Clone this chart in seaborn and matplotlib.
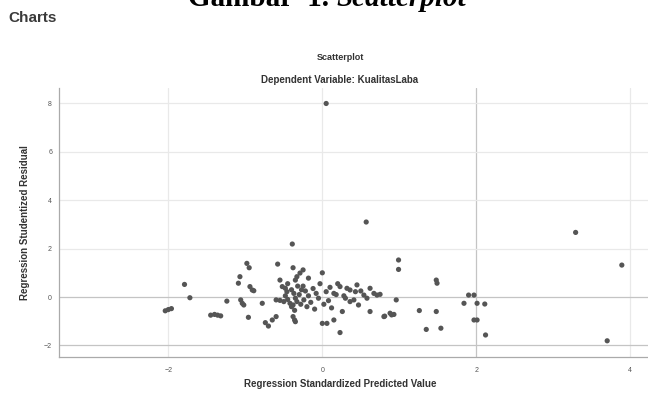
import matplotlib
matplotlib.use("Agg")
import matplotlib.pyplot as plt
import seaborn as sns
import pandas as pd

# Regression standardized predicted value (x) and studentized residual (y)
pred_value = [
    -2.04, -2.00, -1.96, -1.79, -1.72, -1.45, -1.40, -1.36, -1.32, -1.24,
    -1.07, -1.09, -1.06, -1.04, -1.02, -0.98, -0.95, -0.94, -0.91, -0.89,
    -0.96, -0.78, -0.74, -0.70, -0.65, -0.60, -0.58, -0.55, -0.52, -0.48,
    -0.46, -0.39, -0.38, -0.25, -0.29, -0.33, -0.35, -0.18, 0.00,
    -0.60, -0.55, -0.50, -0.45, -0.42, -0.40, -0.38, -0.36, -0.35, -0.33,
    -0.30, -0.28, -0.25, -0.24, -0.22, -0.20, -0.18, -0.15, -0.12, -0.10,
    -0.08, -0.05, -0.03, 0.02, 0.05, 0.08, 0.10, 0.12, -0.45, -0.40,
    -0.32, -0.27, -0.37, -0.48,
    -0.38, -0.36, -0.35, 0.00, 0.06, 0.15, 0.23, 0.26,
    0.05, 0.57,
    0.20, 0.18, 0.23, 0.32, 0.36, 0.45, 0.43, 0.41, 0.36, 0.47,
    0.54, 0.58, 0.62, 0.67, 0.71, 0.62, 0.80, 0.90, 0.96, 0.99,
    0.99, 0.75, 0.30, 0.15, 0.28, 0.50,
    0.81, 0.88, 0.93, 1.26, 1.48, 1.49, 1.48, 1.35, 1.54, 1.84,
    1.90, 1.97, 2.01, 2.11, 1.97, 2.01, 2.12, 3.29, 3.89, 3.70,
]
stud_resid = [
    -0.57, -0.52, -0.48, 0.52, -0.03, -0.75, -0.72, -0.75, -0.78, -0.17,
    0.84, 0.57, -0.12, -0.26, -0.33, 1.39, 1.21, 0.43, 0.29, 0.26,
    -0.84, -0.26, -1.06, -1.20, -0.95, -0.81, 1.36, 0.70, 0.43, 0.36,
    0.22, 2.19, 1.21, 1.12, 0.99, 0.84, 0.70, 0.78, 1.00,
    -0.12, -0.14, -0.19, -0.10, -0.26, -0.40, -0.33, -0.55, -0.05, -0.19,
    0.10, -0.30, 0.45, -0.12, 0.25, -0.40, 0.05, -0.22, 0.35, -0.50,
    0.15, -0.05, 0.55, -0.30, 0.22, -0.15, 0.40, -0.45, 0.55, 0.30,
    0.45, 0.30, 0.15, 0.05,
    -0.81, -0.95, -1.02, -1.09, -1.09, -0.95, -1.47, -0.60,
    8.00, 3.10,
    0.55, 0.10, 0.43, 0.36, 0.29, 0.50, 0.22, -0.12, -0.19, -0.33,
    0.08, -0.05, 0.36, 0.15, 0.08, -0.60, -0.81, -0.74, -0.12, 1.53,
    1.14, 0.11, -0.05, 0.15, 0.05, 0.25,
    -0.79, -0.67, -0.72, -0.56, 0.70, 0.57, -0.60, -1.34, -1.29, -0.26,
    0.08, 0.08, -0.26, -0.29, -0.95, -0.95, -1.57, 2.67, 1.32, -1.81,
]
x_ticks = [-2, 0, 2, 4]
y_ticks = [-2, 0, 2, 4, 6, 8]

df = pd.DataFrame({"pred": pred_value, "resid": stud_resid})

sns.set_style("white")
plt.rcParams["font.family"] = ["Liberation Sans", "DejaVu Sans"]

fig = plt.figure(figsize=(6.48, 3.94), dpi=100)
W, H = 648, 394
# axes box in pixels: left 59, right 648, top 88, bottom 357
ax = fig.add_axes([59 / W, (H - 357) / H, (648 - 59) / W, (357 - 88) / H])

# grid lines, a few of them a bit darker like the reference lines in the original
for v in x_ticks:
    ax.axvline(v, color="#c4c4c4" if v == 2 else "#e9e9e9", lw=0.9, zorder=0)
for v in y_ticks:
    ax.axhline(v, color="#c4c4c4" if v in (0, -2) else "#e9e9e9", lw=0.9, zorder=0)

sns.scatterplot(data=df, x="pred", y="resid", ax=ax, color="#555555",
                s=14, edgecolor="none", zorder=3, legend=False)

ax.set_xlim(-3.42, 4.23)
ax.set_ylim(-2.48, 8.64)
ax.set_xticks(x_ticks)
ax.set_yticks(y_ticks)
ax.tick_params(axis="both", length=0, labelsize=5, colors="#555555")
ax.tick_params(axis="x", pad=7)
ax.tick_params(axis="y", pad=5)
ax.set_xlabel("")
ax.set_ylabel("Regression Studentized Residual", fontsize=7, fontweight="bold",
              color="#333333", labelpad=10)
for side in ["top", "right"]:
    ax.spines[side].set_visible(False)
for side in ["left", "bottom"]:
    ax.spines[side].set_color("#aaaaaa")
    ax.spines[side].set_linewidth(0.9)

# texts around the chart
fig.text(340 / W, 1 - 384 / H, "Regression Standardized Predicted Value", ha="center", va="center",
         fontsize=7, fontweight="bold", color="#333333")
fig.text(340 / W, 1 - 58 / H, "Scatterplot", ha="center", va="center",
         fontsize=6.5, fontweight="bold", color="#333333")
fig.text(340 / W, 1 - 80 / H, "Dependent Variable: KualitasLaba", ha="center", va="center",
         fontsize=7, fontweight="bold", color="#333333")
fig.text(8 / W, 1 - 18 / H, "Charts", ha="left", va="center",
         fontsize=11, fontweight="bold", color="#3a3a3a")

# document caption, cut off at the top edge
fig.text(329 / W, 1 - 6 / H, "Gambar  1.", ha="right", va="baseline",
         fontsize=21, fontweight="bold", family="Liberation Serif", color="black")
fig.text(336 / W, 1 - 6 / H, "Scatterplot", ha="left", va="baseline",
         fontsize=21, fontweight="bold", fontstyle="italic", family="Liberation Serif", color="black")

fig.savefig("out.png", dpi=100)
